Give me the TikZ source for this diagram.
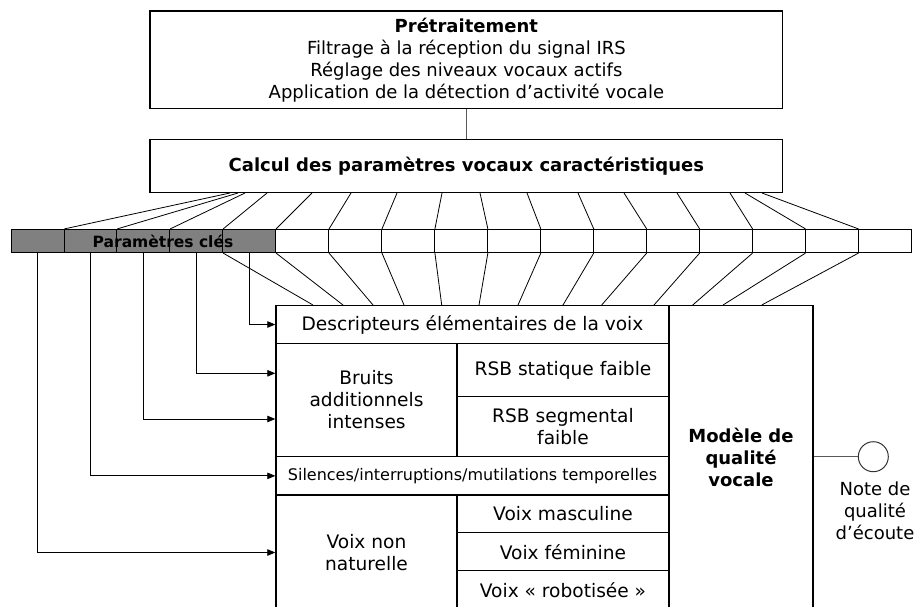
\documentclass[tikz,border=0pt]{standalone}
\usepackage{fontspec}
\setmainfont{DejaVu Sans}
\usetikzlibrary{arrows.meta}
\begin{document}
\begin{tikzpicture}[x=1pt,y=-1pt,
  bx/.style={draw=black, line width=1.4pt, rectangle, inner sep=0pt, align=center, font=\fontsize{18}{22}\selectfont},
  lbx/.style={bx, font=\fontsize{18.6}{22}\selectfont},
  cellbox/.style={draw=black, line width=0.8pt, rectangle, inner sep=0pt, minimum width=52.94pt, minimum height=23.4pt},
  keycell/.style={cellbox, fill=black!50},
  thinline/.style={line width=0.8pt, draw=black},
  arr/.style={thinline, -{Triangle[length=8pt,width=6.5pt]}}
]
\clip (0,0) rectangle (917,606);

% top boxes
\node[bx, minimum width=632.7pt, minimum height=97.7pt] (pre) at (466.35,59.85)
  {\textbf{Prétraitement}\\Filtrage à la réception du signal IRS\\Réglage des niveaux vocaux actifs\\Application de la détection d’activité vocale};
\node[bx, minimum width=632.7pt, minimum height=53pt] (calc) at (466.35,165.8)
  {\textbf{Calcul des paramètres vocaux caractéristiques}};
\draw[line width=0.8pt, draw=black!65] (pre.south) -- (calc.north);

% parameter bar
\foreach \i in {1,...,17}{
  \pgfmathsetmacro\cx{11+(\i-0.5)*52.94}
  \ifnum\i<6
    \node[keycell] (c\i) at (\cx,241) {};
  \else
    \node[cellbox] (c\i) at (\cx,241) {};
  \fi
}
\node[font=\bfseries\fontsize{15.5}{18}\selectfont, inner sep=0pt] (pk) at (163,241) {Paramètres clés};

% lower boxes
\node[lbx, minimum width=393pt, minimum height=37.6pt] (desc) at (472.5,324.5) {Descripteurs élémentaires de la voix};
\node[lbx, minimum width=181pt, minimum height=113.4pt] (bruits) at (366.5,400) {Bruits\\additionnels\\intenses};
\node[lbx, minimum width=212pt, minimum height=53.4pt] (rsbs) at (563,370) {RSB statique faible};
\node[lbx, minimum width=212pt, minimum height=60pt] (rsbg) at (563,426.7) {RSB segmental\\faible};
\node[bx, minimum width=393pt, minimum height=38.3pt, font=\fontsize{16}{18}\selectfont] (sil) at (472.5,475.85) {Silences/interruptions/mutilations temporelles};
\node[lbx, minimum width=181pt, minimum height=115pt] (vnn) at (366.5,552.5) {Voix non\\naturelle};
\node[lbx, minimum width=212pt, minimum height=37.7pt] (vm) at (563,513.85) {Voix masculine};
\node[lbx, minimum width=212pt, minimum height=38pt] (vf) at (563,551.7) {Voix féminine};
\node[lbx, minimum width=212pt, minimum height=39.3pt] (vr) at (563,590.35) {Voix «~robotisée~»};
\node[bx, minimum width=144pt, minimum height=304.3pt] (mod) at (741,457.85) {\textbf{Modèle de}\\\textbf{qualité}\\\textbf{vocale}};

% output
\node[circle, draw=black!80, line width=1pt, minimum size=30pt, inner sep=0pt] (circ) at (873.3,456.7) {};
\draw[line width=0.8pt, draw=black!65] (mod.east |- circ.west) -- (circ.west);
\node[align=center, font=\fontsize{18}{22}\selectfont, inner sep=0pt] (note) at (875,511) {Note de\\qualité\\d’écoute};

% upper fan
\foreach \k/\tx in {1/230,2/238,3/245,4/267,5/312,6/351,7/397,8/442,9/480,10/527,11/578,12/624,13/677,14/730,15/745,16/762}{
  \draw[thinline] (\tx,0 |- calc.south) -- (c\k.north east);
}
% lower fan
\foreach \k/\bx in {4/313,5/343,6/373,7/404,8/441.7,9/479,10/518,11/563,12/601.7,13/654,14/692.7,15/723,16/761.7}{
  \draw[thinline] (c\k.south east) -- (\bx,0 |- desc.north);
}

% arrows from key parameters
\draw[arr] (c5.south) |- (desc.west);
\draw[arr] (c4.south) |- ([yshift=26.7pt]bruits.west);
\draw[arr] (c3.south) |- ([yshift=-19pt]bruits.west);
\draw[arr] (c2.south) |- (sil.west);
\draw[arr] (c1.south) |- (vnn.west);
\end{tikzpicture}
\end{document}
